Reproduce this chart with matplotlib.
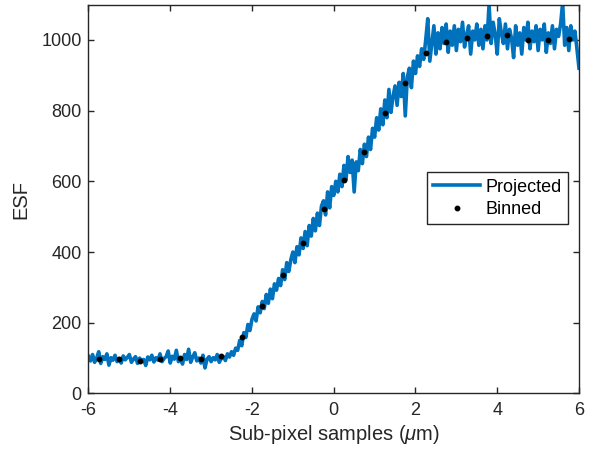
import matplotlib

matplotlib.use("Agg")
import matplotlib.pyplot as plt
import numpy as np

plt.rcParams["font.family"] = ["Liberation Sans", "DejaVu Sans"]
plt.rcParams["mathtext.fontset"] = "custom"
plt.rcParams["mathtext.it"] = "Liberation Sans:italic"
plt.rcParams["mathtext.rm"] = "Liberation Sans"

# projected ESF samples, every 0.05 um from -6 to 6
projected = [
    105, 92, 110, 88, 100, 118, 85, 104, 96, 112, 80, 101, 94, 108, 90, 99, 86, 106, 95, 102,
    110, 88, 97, 104, 85, 100, 92, 96, 79, 103, 95, 108, 89, 101, 94, 112, 90, 99, 104, 120,
    86, 105, 97, 122, 90, 101, 83, 110, 96, 125, 88, 103, 115, 92, 100, 86, 108, 72, 97, 104,
    90, 101, 95, 110, 88, 99, 104, 93, 112, 103, 118, 108, 128, 122, 150, 135, 172, 158, 195, 178,
    210, 225, 205, 245, 228, 260, 240, 280, 255, 295, 268, 310, 292, 325, 305, 350, 322, 370, 345, 378,
    400, 370, 415, 392, 440, 410, 458, 418, 475, 445, 495, 460, 510, 475, 530, 545, 505, 570, 525, 585,
    560, 600, 570, 620, 585, 645, 605, 670, 625, 660, 570, 655, 630, 690, 650, 705, 670, 725, 690, 750,
    725, 780, 745, 805, 760, 830, 780, 860, 795, 840, 870, 815, 880, 840, 905, 785, 895, 920, 865, 940,
    905, 955, 925, 975, 945, 1000, 1060, 940, 990, 1040, 960, 1020, 975, 1035, 990, 1045, 965, 1025, 985, 1040,
    970, 1030, 995, 1050, 980, 1015, 1040, 960, 1025, 1000, 1045, 985, 1030, 975, 1040, 1000, 1100, 990, 1050, 1015,
    960, 1060, 1020, 990, 1045, 975, 1030, 1005, 950, 1040, 985, 1020, 960, 1035, 1000, 1050, 975, 1025, 995, 1040,
    970, 1030, 1000, 1045, 965, 1020, 990, 1040, 975, 1030, 1010, 1045, 1105, 985, 1035, 970, 1040, 1000, 1025, 975,
    920,
]
projected_x = np.linspace(-6, 6, len(projected))

# binned ESF, centres every 0.5 um
binned_x = np.arange(-5.75, 6.0, 0.5)
binned = [
    98, 96, 93, 98, 100, 96, 105, 159, 247, 334, 425, 523,
    604, 684, 793, 879, 964, 993, 1005, 1010, 1014, 999, 999, 1002,
]

fig = plt.figure(figsize=(5.91, 4.58), dpi=100)
ax = fig.add_axes([0.1497, 0.141, 0.83, 0.849])

ax.plot(projected_x, projected, color="#0072BD", linewidth=2.6, label="Projected")
ax.plot(binned_x, binned, linestyle="none", marker="o", markersize=3.2,
        color="black", label="Binned")

ax.set_xlim(-6, 6)
ax.set_ylim(0, 1100)
ax.set_xticks(np.arange(-6, 7, 2))
ax.set_yticks(np.arange(0, 1001, 200))
ax.set_xticklabels([str(v) for v in range(-6, 7, 2)])

axis_color = "#262626"
for spine in ax.spines.values():
    spine.set_color(axis_color)
    spine.set_linewidth(1.0)
ax.tick_params(direction="in", length=4, width=1.0, top=True, right=True,
               colors=axis_color, labelsize=13)
ax.tick_params(axis="x", pad=6)
ax.tick_params(axis="y", pad=5)

ax.set_xlabel(r"Sub-pixel samples ($\mu$m)", fontsize=14.5, color=axis_color, labelpad=3)
ax.set_ylabel("ESF", fontsize=14.5, color=axis_color, labelpad=8)

leg = ax.legend(loc="lower right", bbox_to_anchor=(0.978, 0.435), fontsize=13,
                fancybox=False, edgecolor=axis_color, framealpha=1,
                handlelength=2.6, borderpad=0.35, labelspacing=0.3,
                handletextpad=0.3, borderaxespad=0)
leg.get_frame().set_linewidth(1.0)

fig.savefig("out.png", dpi=100)
